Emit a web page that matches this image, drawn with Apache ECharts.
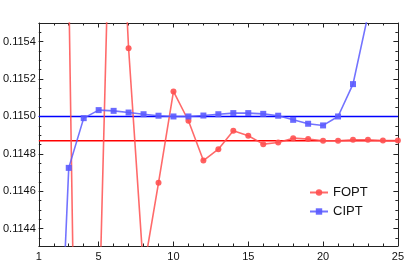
<!DOCTYPE html>
<html>
<head>
<meta charset="utf-8">
<script src="https://cdn.jsdelivr.net/npm/echarts@6/dist/echarts.min.js"></script>
<style>html,body{margin:0;padding:0;background:#fff;}#c{width:407px;height:271px;}</style>
</head>
<body>
<div id="c"></div>
<script>
var xs = [1,2,3,4,5,6,7,8,9,10,11,12,13,14,15,16,17,18,19,20,21,22,23,24,25];
var fopt = [null,null,0.115713,0.110442,0.113825,0.116969,0.115365,0.114173,0.114645,0.115134,0.114977,0.114764,0.114825,0.114923,0.114897,0.114852,0.114861,0.114884,0.114879,0.114870,0.114870,0.114875,0.114875,0.114871,0.114871];
var cipt = [null,0.11288,0.114725,0.114991,0.115034,0.115030,0.115021,0.115012,0.115004,0.115000,0.115000,0.115005,0.115012,0.115018,0.115018,0.115014,0.115004,0.114982,0.114961,0.114952,0.115000,0.115173,0.115542,null,null];
var foptRef = 0.11487;
var ciptRef = 0.11500;
var xLabels = [1,5,10,15,20,25];
var xMajor = [5,10,15,20,25];
var xMinor = [2,3,4,6,7,8,9,11,12,13,14,16,17,18,19,21,22,23,24];
var yLabels = [0.1144,0.1146,0.1148,0.1150,0.1152,0.1154];
var yMinor = [0.11435,0.11440,0.11445,0.11450,0.11455,0.11460,0.11465,0.11470,0.11475,0.11480,0.11485,0.11490,0.11495,0.11500,0.11505,0.11510,0.11515,0.11520,0.11525,0.11530,0.11535,0.11540,0.11545];

var XMIN = 1, XMAX = 25, YMIN = 0.114307, YMAX = 0.1155;
var frameColor = '#222';
function mkX(pos, labels, ticks, len, line) {
  return {
    type: 'value', position: pos, min: XMIN, max: XMAX,
    axisLine: {show: line, onZero: false, lineStyle: {color: frameColor, width: 1}},
    axisTick: {show: true, inside: true, length: len, customValues: ticks, lineStyle: {color: frameColor, width: 1}},
    axisLabel: labels ? {show: true, customValues: labels, margin: 5, color: '#111', fontSize: 11, fontFamily: 'Liberation Sans, Arial, sans-serif'} : {show: false},
    splitLine: {show: false}
  };
}
function mkY(pos, labels, ticks, len, line) {
  return {
    type: 'value', position: pos, min: YMIN, max: YMAX,
    axisLine: {show: line, onZero: false, lineStyle: {color: frameColor, width: 1}},
    axisTick: {show: true, inside: true, length: len, customValues: ticks, lineStyle: {color: frameColor, width: 1}},
    axisLabel: labels ? {show: true, customValues: labels, margin: 3, color: '#111', fontSize: 11, fontFamily: 'Liberation Sans, Arial, sans-serif', formatter: function(v){return v.toFixed(4);}} : {show: false},
    splitLine: {show: false}
  };
}
var chart = echarts.init(document.getElementById('c'));
chart.setOption({
  animation: false,
  backgroundColor: '#fff',
  grid: {left: 38.5, right: 8, top: 23, bottom: 25},
  xAxis: [
    mkX('bottom', xLabels, xMajor, 4.5, true),
    mkX('bottom', null, xMinor, 2.5, false),
    mkX('top', null, xMajor, 4.5, true),
    mkX('top', null, xMinor, 2.5, false)
  ],
  yAxis: [
    mkY('left', yLabels, yLabels, 4.5, true),
    mkY('left', null, yMinor, 2.5, false),
    mkY('right', null, yLabels, 4.5, true),
    mkY('right', null, yMinor, 2.5, false)
  ],
  legend: {
    orient: 'vertical', left: 309, top: 186, padding: 0,
    itemWidth: 18, itemHeight: 8, itemGap: 6,
    textStyle: {fontSize: 13, color: '#111', fontFamily: 'Liberation Sans, Arial, sans-serif'},
    data: ['FOPT', 'CIPT']
  },
  series: [
    {
      name: 'refF', type: 'line', data: [[XMIN, foptRef], [XMAX, foptRef]],
      symbol: 'none', lineStyle: {color: '#ff0000', width: 1.5}, z: 1, silent: true
    },
    {
      name: 'refC', type: 'line', data: [[XMIN, ciptRef], [XMAX, ciptRef]],
      symbol: 'none', lineStyle: {color: '#0000ff', width: 1.5}, z: 1, silent: true
    },
    {
      name: 'FOPT', type: 'line', clip: true,
      data: xs.map(function(x, i){ return [x, fopt[i] === null ? '-' : fopt[i]]; }),
      symbol: 'circle', symbolSize: 6,
      lineStyle: {color: 'rgba(255,80,80,0.85)', width: 1.6},
      itemStyle: {color: 'rgba(255,80,80,0.9)'},
      z: 3
    },
    {
      name: 'CIPT', type: 'line', clip: true,
      data: xs.map(function(x, i){ return [x, cipt[i] === null ? '-' : cipt[i]]; }),
      symbol: 'rect', symbolSize: 6,
      lineStyle: {color: 'rgba(90,90,255,0.85)', width: 1.6},
      itemStyle: {color: 'rgba(90,90,255,0.9)'},
      z: 3
    }
  ]
});
</script>
</body>
</html>
